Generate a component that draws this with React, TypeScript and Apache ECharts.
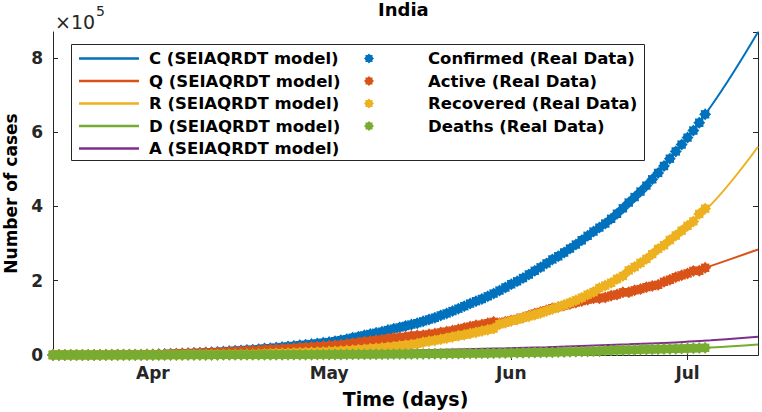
import React, { useEffect, useRef } from "react";
import * as echarts from "echarts";

// ---------- data (values in thousands of cases) ----------
const startDay = "2020-03-15";
const endDay = "2020-07-13";
const monthTicks = ["2020-04-01", "2020-05-01", "2020-06-01", "2020-07-01"];
const monthLabels = ["Apr", "May", "Jun", "Jul"];
const yTickLabels = ["0", "2", "4", "6", "8"];

// Real data, daily from 2020-03-15 to 2020-07-04
const confirmedReal = [
  0.1, 0.1, 0.1, 0.1, 0.2, 0.2, 0.3, 0.3, 0.4, 0.5, 0.5, 0.7, 0.7, 0.9, 1.0, 1.0, 1.3,
  1.4, 2.0, 2.5, 3.1, 3.6, 4.3, 4.8, 5.3, 5.9, 6.7, 7.6, 8.4, 9.2, 10.5, 11.5, 12.3, 13.4, 14.4, 15.7, 17.6, 18.5, 20.1, 21.4, 23.1, 24.5, 26.3, 27.9, 29.5, 31.3, 33.1,
  34.9, 37.3, 39.7, 42.5, 46.4, 49.4, 53.0, 56.4, 59.7, 62.8, 67.2, 70.8, 74.3, 78.1, 82.0, 85.8, 90.6, 95.7, 100.3, 106.5, 112.0, 118.2, 124.8, 131.4, 138.5, 145.0, 150.8, 158.1, 165.4, 173.5, 181.8,
  190.6, 198.4, 207.2, 216.8, 226.7, 236.2, 246.6, 257.5, 265.9, 276.1, 286.6, 297.5, 309.0, 320.9, 332.4, 343.1, 354.1, 366.9, 380.5, 395.0, 410.5, 425.3, 440.2, 456.2, 473.1, 490.4, 509.0, 528.9, 548.3, 566.8,
  585.5, 604.6, 625.5, 648.3,
];
const activeReal = [
  0.1, 0.1, 0.1, 0.1, 0.2, 0.2, 0.3, 0.3, 0.4, 0.5, 0.5, 0.6, 0.7, 0.8, 0.9, 0.9, 1.1,
  1.3, 1.8, 2.2, 2.8, 3.2, 3.9, 4.2, 4.7, 5.2, 5.9, 6.5, 7.1, 7.7, 8.9, 9.7, 10.3, 11.1, 11.9, 12.6, 14.1, 14.6, 15.4, 16.3, 17.3, 18.2, 19.5, 20.5, 21.4, 22.5, 23.5,
  24.6, 26.0, 27.5, 29.1, 31.9, 33.4, 35.8, 37.6, 39.7, 41.3, 43.9, 45.9, 47.4, 49.0, 51.3, 52.6, 53.4, 55.7, 57.8, 60.8, 63.0, 65.9, 69.1, 73.0, 76.6, 80.0, 81.9, 85.7, 89.3, 85.7, 89.5,
  93.1, 96.8, 100.8, 106.3, 111.6, 116.1, 120.7, 126.2, 129.1, 133.3, 137.1, 141.4, 145.5, 149.0, 152.8, 152.6, 155.0, 159.9, 162.9, 168.9, 169.1, 174.1, 177.6, 182.6, 186.1, 189.1, 197.0, 202.7, 209.6, 214.6,
  219.8, 226.5, 226.9, 234.8,
];
const recoveredReal = [
  0.0, 0.0, 0.0, 0.0, 0.0, 0.0, 0.0, 0.0, 0.0, 0.0, 0.0, 0.0, 0.0, 0.1, 0.1, 0.1, 0.1,
  0.1, 0.1, 0.2, 0.2, 0.3, 0.3, 0.4, 0.4, 0.5, 0.6, 0.8, 1.0, 1.1, 1.2, 1.4, 1.5, 1.8, 2.0, 2.5, 2.9, 3.3, 4.0, 4.4, 5.0, 5.5, 5.9, 6.5, 7.1, 7.7, 8.4,
  9.1, 10.0, 10.8, 11.8, 12.8, 14.2, 15.3, 16.8, 17.9, 19.3, 21.0, 22.5, 24.4, 26.4, 28.0, 30.3, 34.2, 36.8, 39.2, 42.3, 45.4, 48.6, 51.8, 54.4, 57.7, 60.7, 64.4, 67.7, 71.1, 82.6, 86.9,
  91.9, 95.8, 100.3, 104.1, 108.5, 113.2, 118.7, 123.8, 129.1, 134.7, 141.0, 147.2, 154.3, 162.4, 169.7, 180.3, 186.9, 194.4, 204.7, 212.9, 227.7, 237.2, 248.1, 258.7, 271.7, 285.6, 295.9, 309.7, 321.8, 334.8,
  347.9, 359.9, 379.9, 394.2,
];
const deathsReal = [
  0.0, 0.0, 0.0, 0.0, 0.0, 0.0, 0.01, 0.01, 0.01, 0.01, 0.01, 0.01, 0.02, 0.02, 0.02, 0.03, 0.03,
  0.05, 0.06, 0.07, 0.09, 0.1, 0.14, 0.15, 0.18, 0.23, 0.25, 0.29, 0.33, 0.36, 0.39, 0.41, 0.45, 0.49, 0.52, 0.56, 0.59, 0.65, 0.68, 0.72, 0.78, 0.83, 0.88, 0.94, 1.01, 1.08, 1.15,
  1.22, 1.32, 1.39, 1.57, 1.69, 1.78, 1.89, 1.99, 2.1, 2.21, 2.29, 2.42, 2.55, 2.65, 2.75, 2.87, 3.03, 3.16, 3.3, 3.44, 3.58, 3.72, 3.87, 4.02, 4.17, 4.34, 4.53, 4.71, 4.98, 5.16, 5.39,
  5.6, 5.83, 6.09, 6.36, 6.65, 6.95, 7.21, 7.47, 7.75, 8.1, 8.5, 8.88, 9.2, 9.52, 9.92, 10.22, 12.24, 12.57, 12.95, 13.25, 13.7, 14.02, 14.48, 14.91, 15.31, 15.69, 16.1, 16.49, 16.9, 17.41,
  17.83, 18.21, 18.66, 19.28,
];

// Model curves (SEIAQRDT), weekly samples
const modelDates = [
  "2020-03-15", "2020-03-22", "2020-03-29", "2020-04-05", "2020-04-12", "2020-04-19",
  "2020-04-26", "2020-05-03", "2020-05-10", "2020-05-17", "2020-05-24", "2020-05-31",
  "2020-06-07", "2020-06-14", "2020-06-21", "2020-06-28", "2020-07-05", "2020-07-13",
];
const modelC = [0.1, 0.4, 1.0, 3.4, 8.3, 15.6, 26.0, 40, 61, 90, 130, 180, 244, 322, 418, 532, 670, 870];
const modelQ = [0.1, 0.3, 0.8, 3.0, 7.0, 12.5, 19.5, 27.5, 41, 54, 72, 90, 120, 148, 171, 202, 240, 284];
const modelR = [0, 0.02, 0.1, 0.3, 1.0, 2.5, 5.9, 10.8, 19.3, 34, 55, 85, 122, 166, 232, 310, 405, 561];
const modelD = [0, 0.005, 0.03, 0.1, 0.36, 0.56, 0.88, 1.4, 2.2, 3.0, 4.0, 5.4, 7.2, 9.5, 13.2, 16.5, 20, 28];
const modelA = [0.05, 0.2, 0.5, 1.0, 2.0, 3.5, 5.3, 7.5, 9.8, 12.5, 15.2, 18, 21.2, 25, 28.8, 33, 39.5, 49];

const modelNames = [
  "C (SEIAQRDT model)",
  "Q (SEIAQRDT model)",
  "R (SEIAQRDT model)",
  "D (SEIAQRDT model)",
  "A (SEIAQRDT model)",
];
const realNames = [
  "Confirmed (Real Data)",
  "Active (Real Data)",
  "Recovered (Real Data)",
  "Deaths (Real Data)",
];

const BLUE = "#0072BD";
const ORANGE = "#D95319";
const YELLOW = "#EDB120";
const PURPLE = "#7E2F8E";
const GREEN = "#77AC30";
const AXIS = "#262626";
const FONT = "DejaVu Sans";

const STAR =
  "path://M20,10L16.93,12.87L17.07,17.07L12.87,16.93L10,20L7.13,16.93L2.93,17.07L3.07,12.87L0,10L3.07,7.13L2.93,2.93L7.13,3.07L10,0L12.87,3.07L17.07,2.93L16.93,7.13Z";

function buildDays(): string[] {
  const out: string[] = [];
  const [y0, m0, d0] = startDay.split("-").map(Number);
  const [y1, m1, d1] = endDay.split("-").map(Number);
  const end = Date.UTC(y1, m1 - 1, d1);
  for (let t = Date.UTC(y0, m0 - 1, d0); t <= end; t += 86400000) {
    out.push(new Date(t).toISOString().slice(0, 10));
  }
  return out;
}

export default function App() {
  const ref = useRef<HTMLDivElement>(null);

  useEffect(() => {
    if (!ref.current) return;
    const chart = echarts.init(ref.current, undefined, { renderer: "svg" });
    const days = buildDays();
    const isTick = (_i: number, v: string) => monthTicks.indexOf(v) >= 0;

    const modelSeries = [modelC, modelQ, modelR, modelD, modelA].map((vals, k) => {
      const color = [BLUE, ORANGE, YELLOW, GREEN, PURPLE][k];
      return {
        type: "line",
        name: modelNames[k],
        data: modelDates.map((d, i) => [d, vals[i]]),
        smooth: 0.4,
        symbol: "none",
        showSymbol: false,
        lineStyle: { width: 2, color },
        itemStyle: { color },
        z: 2,
      };
    });
    const realSeries = [confirmedReal, activeReal, recoveredReal, deathsReal].map((vals, k) => {
      const color = [BLUE, ORANGE, YELLOW, GREEN][k];
      return {
        type: "scatter",
        name: realNames[k],
        data: vals,
        symbol: STAR,
        symbolSize: 12,
        itemStyle: { color, opacity: 1 },
        z: 3,
      };
    });

    const legendText = (padLeft: number) => ({
      fontFamily: FONT,
      fontWeight: "bold",
      fontSize: 16.5,
      lineHeight: 17,
      color: "#000",
      rich: {
        t: {
          fontFamily: FONT,
          fontWeight: "bold",
          fontSize: 16.5,
          lineHeight: 17,
          color: "#000",
          padding: [0, 0, 0, padLeft],
        },
      },
    });

    chart.setOption({
      animation: false,
      backgroundColor: "#fff",
      textStyle: { fontFamily: FONT },
      title: {
        text: "India",
        left: 378,
        top: 0,
        padding: 0,
        textStyle: { fontFamily: FONT, fontWeight: "bold", fontSize: 18, color: "#000" },
      },
      grid: {
        left: 53,
        right: 4,
        top: 32,
        bottom: 57,
        containLabel: false,
        outerBoundsMode: "none",
      },
      legend: [
        {
          data: modelNames,
          orient: "vertical",
          left: 79,
          top: 50,
          padding: 0,
          icon: "rect",
          itemWidth: 60,
          itemHeight: 2.5,
          itemGap: 5.5,
          selectedMode: false,
          formatter: "{t|{name}}",
          textStyle: legendText(5),
        },
        {
          data: realNames,
          orient: "vertical",
          left: 364,
          top: 50,
          padding: 0,
          itemWidth: 56,
          itemHeight: 10,
          itemGap: 5.5,
          selectedMode: false,
          formatter: "{t|{name}}",
          textStyle: legendText(26),
        },
      ],
      xAxis: [
        {
          type: "category",
          data: days,
          boundaryGap: false,
          name: "Time (days)",
          nameLocation: "middle",
          nameGap: 34,
          nameTextStyle: { fontFamily: FONT, fontWeight: "bold", fontSize: 19, color: "#000" },
          axisLine: { lineStyle: { color: AXIS, width: 1 } },
          axisTick: { inside: true, length: 5, interval: isTick, lineStyle: { color: AXIS } },
          axisLabel: {
            interval: isTick,
            margin: 9,
            fontFamily: FONT,
            fontWeight: "bold",
            fontSize: 17,
            color: AXIS,
            formatter: (v: string) => {
              const i = monthTicks.indexOf(v);
              return i >= 0 ? monthLabels[i] : "";
            },
          },
          splitLine: { show: false },
        },
        {
          type: "category",
          data: days,
          boundaryGap: false,
          position: "top",
          axisLine: { lineStyle: { color: AXIS, width: 1 } },
          axisTick: { inside: true, length: 5, interval: isTick, lineStyle: { color: AXIS } },
          axisLabel: { show: false },
          splitLine: { show: false },
        },
      ],
      yAxis: [
        {
          type: "value",
          min: 0,
          max: 870,
          interval: 200,
          name: "Number of cases",
          nameLocation: "middle",
          nameGap: 34,
          nameTextStyle: { fontFamily: FONT, fontWeight: "bold", fontSize: 17, color: "#000" },
          axisLine: { show: true, lineStyle: { color: AXIS, width: 1 } },
          axisTick: { show: true, inside: true, length: 5, lineStyle: { color: AXIS } },
          axisLabel: {
            margin: 10,
            fontFamily: FONT,
            fontWeight: "bold",
            fontSize: 17,
            color: AXIS,
            showMaxLabel: false,
            formatter: (v: number) => {
              const i = Math.round(v / 200);
              return Math.abs(v - i * 200) < 1e-6 && yTickLabels[i] !== undefined ? yTickLabels[i] : "";
            },
          },
          splitLine: { show: false },
        },
        {
          type: "value",
          min: 0,
          max: 870,
          interval: 200,
          position: "right",
          axisLine: { show: true, lineStyle: { color: AXIS, width: 1 } },
          axisTick: { show: true, inside: true, length: 5, lineStyle: { color: AXIS } },
          axisLabel: { show: false },
          splitLine: { show: false },
        },
      ],
      graphic: [
        {
          type: "rect",
          z: 3,
          shape: { x: 71.5, y: 44.5, width: 573, height: 116 },
          style: { fill: "#fff", stroke: AXIS, lineWidth: 1 },
        },
        {
          type: "text",
          left: 55,
          top: 12,
          style: { text: "×10", fontFamily: FONT, fontSize: 19, fill: AXIS },
        },
        {
          type: "text",
          left: 96,
          top: 4,
          style: { text: "5", fontFamily: FONT, fontSize: 14, fill: AXIS },
        },
      ],
      series: [...modelSeries, ...realSeries],
    });

    return () => chart.dispose();
  }, []);

  return (
    <div
      ref={ref}
      style={{ position: "absolute", left: 0, top: 0, width: 762, height: 412 }}
    />
  );
}
